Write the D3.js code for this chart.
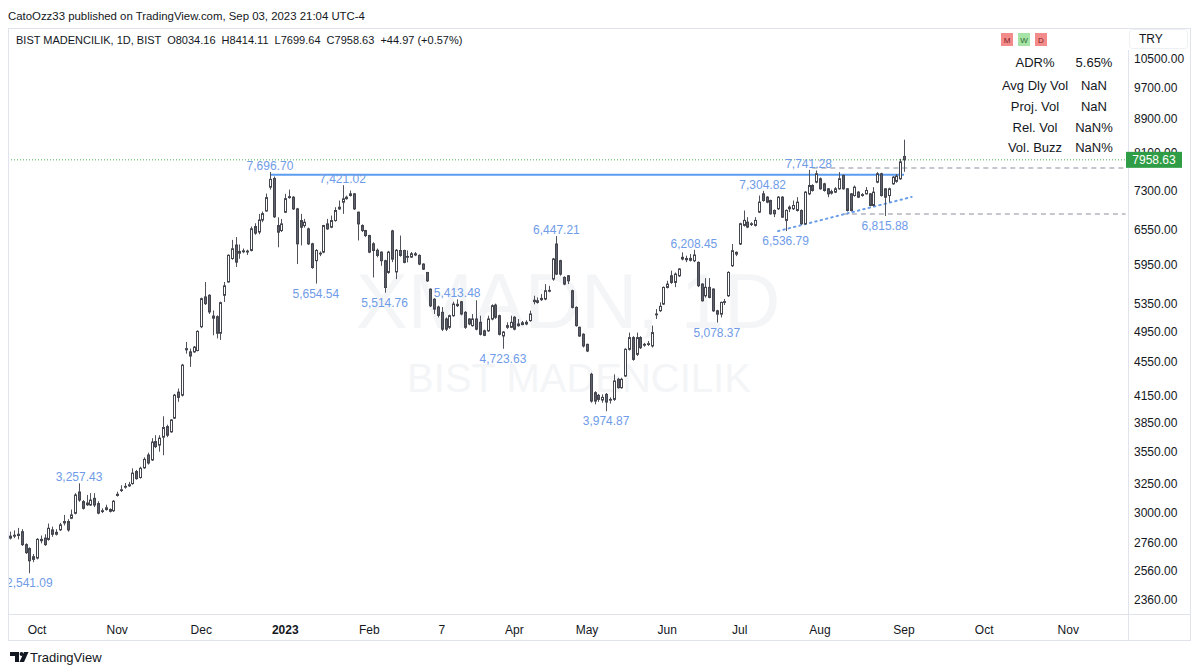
<!DOCTYPE html>
<html><head><meta charset="utf-8">
<script src="https://cdn.jsdelivr.net/npm/d3@7"></script>
<style>
html,body{margin:0;padding:0;background:#fff;}
svg{display:block;font-family:"Liberation Sans",Arial,sans-serif;}
</style></head><body><svg id="c" width="1200" height="671"></svg>
<script>
// ---------- DATA ----------
const firstBar = -7; // first candle index (Sep 22, 2022); bar 0 = Oct 3, 2022
// [open, high, low, close] per trading day
const ohlc = [
[2800,2850,2790,2815],[2815,2860,2800,2822],[2830,2880,2790,2820],[2850,2870,2740,2750],[2750,2760,2680,2690],
[2720,2730,2541.09,2630],[2640,2680,2620,2660],
[2650,2800,2640,2790],[2790,2820,2760,2780],[2800,2830,2740,2750],[2790,2915,2780,2877],[2864,2890,2810,2830],
[2830,2870,2820,2845],[2865,2920,2855,2904],[2920,2985,2900,2931],[2931,2950,2850,2864],[2958,3030,2950,2985],
[2999,3170,2990,3154],[3180,3257.43,3095,3110],[3097,3110,3030,3040],[3070,3154,3060,3085],[3068,3170,3060,3110],
[3125,3170,3050,3068],[3080,3100,2990,3000],[3020,3040,3000,3013],[3030,3070,3020,3045],[3030,3040,3005,3015],
[3020,3110,3010,3100],[3150,3183,3140,3160],[3195,3240,3180,3200],[3225,3260,3210,3230],[3235,3270,3225,3245],
[3255,3395,3245,3350],[3365,3380,3290,3300],[3310,3410,3300,3395],[3400,3500,3390,3480],[3522,3545,3430,3445],
[3475,3690,3465,3650],[3655,3720,3590,3605],[3620,3720,3555,3690],[3700,3920,3520,3800],[3810,3830,3700,3720],
[3755,3890,3745,3880],[3900,4170,3890,4155],[4190,4232,4080,4130],[4155,4530,4140,4514],[4710,4813,4660,4725],
[4683,4725,4493,4630],[4683,4760,4670,4745],[4700,4970,4690,4955],[5020,5440,5000,5424],[5450,5680,5330,5350],
[5475,5490,5200,5229],[5170,5250,4903,5140],[5160,5180,4860,4930],[4930,5380,4840,5365],[5475,5680,5375,5620],
[5680,6130,5670,6114],[6060,6380,6040,6225],[6290,6430,5920,6000],[6150,6300,6056,6180],[6190,6230,6150,6175],
[6170,6210,6120,6185],[6197,6620,6180,6578],[6620,6680,6470,6500],[6520,6855,6480,6740],[6740,6900,6700,6860],
[6910,7250,6900,7170],[7380,7696.70,7330,7540],[7560,7600,6780,6800],[6638,6790,6250,6517],[6547,6760,6520,6668],
[6887,7245,6870,7150],[7170,7330,7150,7190],[7178,7200,6930,6951],[6951,6970,5968,6311],[6730,6855,6283,6607],
[6638,6761,6600,6699],[6577,6600,6290,6311],[6311,6330,5890,5912],[6024,6220,5654.54,6196],[6150,6180,6100,6140],
[6168,6650,6150,6638],[6668,6761,6560,6577],[6607,6823,6590,6730],[6730,6983,6710,6919],[6950,7113,6930,6983],
[7079,7421.02,6855,7146],[7150,7210,7130,7178],[7245,7312,7190,7212],[7245,7260,6930,6951],[6887,6900,6370,6668],
[6638,6660,6520,6547],[6547,6560,6430,6457],[6457,6470,6150,6168],[6311,6340,5751,6196],[6200,6230,6080,6112],
[6168,6180,5940,6024],[6024,6040,5514.76,5594],[5831,6190,5810,6168],[6540,6560,6000,6050],[5840,6220,5725,6200],
[6196,6457,6090,6112],[6196,6210,5980,5996],[6084,6196,5996,6095],[6084,6170,6070,6140],[6140,6170,6100,6120],
[6112,6130,5950,5968],[5968,5980,5870,5885],[5831,5840,5680,5698],[5568,5580,5300,5318],[5416,5430,5200,5270],
[5300,5320,5150,5180],[5223,5300,4960,4986],[5128,5150,4960,4986],[5012,5190,4990,5175],[5175,5380,5160,5344],
[5320,5413.48,5300,5340],[5378,5390,5180,5199],[5223,5240,4990,5012],[5128,5140,5040,5058],[5035,5199,5020,5128],
[5128,5400,4970,4986],[5081,5175,4900,4916],[4963,4980,4890,4902],[4963,5175,4950,5128],[5128,5340,5110,5320],
[5329,5350,5130,5152],[5175,5190,4900,4916],[4893,4960,4723.63,4946],[5012,5081,4990,5035],[5012,5175,5000,5081],
[5152,5170,4970,4986],[5035,5128,5020,5058],[5050,5100,5040,5075],[5058,5110,5040,5081],[5105,5247,5090,5199],
[5380,5468,5340,5400],[5393,5443,5350,5369],[5410,5493,5390,5428],[5418,5647,5400,5544],[5540,5621,5520,5550],
[5726,6070,5700,6052],[6308,6447.21,5790,5805],[6024,6040,5780,5805],[5752,5770,5630,5647],[5778,5790,5647,5699],
[5544,5560,5280,5295],[5295,5310,5020,5035],[5012,5020,4880,4893],[4916,4930,4740,4760],[4781,4790,4680,4694],
[4401,4420,4070,4088],[4184,4200,4051,4088],[4153,4170,4080,4107],[4100,4164,4069,4130],[4164,4180,3974.87,4077],
[4100,4130,4060,4107],[4107,4401,4090,4321],[4341,4360,4230,4242],[4242,4360,4230,4341],[4381,4730,4370,4716],
[4716,4939,4700,4871],[4871,4890,4570,4587],[4651,4939,4630,4871],[4871,4890,4720,4737],[4770,4800,4750,4781],
[4781,4826,4760,4790],[4760,5035,4740,4939],[5190,5271,5128,5199],[5247,5369,5230,5310],[5344,5610,5330,5595],
[5595,5699,5580,5647],[5778,5860,5650,5673],[5673,5830,5600,5805],[5778,5900,5760,5887],[6052,6164,6030,6080],
[6060,6108,6000,6040],[6030,6135,6010,6062],[6023,6208.45,6000,6119],[5996,6010,5600,5622],[5647,5660,5380,5393],
[5468,5740,5440,5596],[5596,5740,5430,5443],[5570,5580,5230,5245],[5245,5260,5078.37,5197],[5197,5380,5150,5368],
[5368,5420,5330,5380],[5468,5850,5450,5832],[5941,6308,5920,6192],[6164,6180,6100,6135],[6308,6690,6290,6671],
[6641,6920,6620,6733],[6700,6794,6590,6610],[6660,6700,6630,6671],[6641,6794,6620,6733],[6889,7212,6870,7081],
[7245,7304.82,7090,7113],[7179,7200,7060,7081],[7113,7130,6840,6857],[6920,6940,6794,6857],[6952,7200,6930,7179],
[7179,7200,6780,6794],[6733,6940,6536.79,6920],[6952,7016,6889,6984],[6952,7113,6930,7016],[6920,7179,6900,7081],
[6920,6940,6650,6671],[6671,7300,6650,7279],[7245,7741.28,7220,7414],[7414,7440,7290,7313],[7483,7729,7460,7658],
[7553,7580,7330,7347],[7448,7470,7290,7313],[7347,7360,7179,7245],[7260,7330,7230,7290],[7279,7380,7260,7347],
[7347,7693,7330,7553],[7623,7640,7330,7347],[7347,7360,6900,6920],[7245,7260,6900,6920],[7212,7414,7190,7380],
[7279,7300,7160,7179],[7212,7260,7190,7230],[7245,7380,7230,7313],[7245,7260,7000,7016],[7016,7380,7000,7279],
[7483,7693,7460,7658],[7658,7680,7190,7212],[7347,7360,6815.88,7179],[7212,7370,7081,7347],[7448,7610,7430,7587],
[7500,7650,7470,7610],[7553,7980,7530,7913.66],[8034.16,8414.11,7699.64,7958.63]
];
const lastClose = 7958.63;
const priceTicks = [10500,9700,8900,8100,7300,6550,5950,5350,4950,4550,4150,3850,3550,3250,3000,2760,2560,2360];
const monthLabels = ["Oct","Nov","Dec","2023","Feb","7","Apr","May","Jun","Jul","Aug","Sep","Oct","Nov"];
const monthBars   = [0,21,43,65,87,106,125,144,165,184,205,227,248,270];
const pivotBars   = [-2,11,61,80,73,91,110,122,136,149,172,178,190,196,202,222];
const pivotValues = [2541.09,3257.43,7696.70,7421.02,5654.54,5514.76,5413.48,4723.63,6447.21,3974.87,6208.45,5078.37,7304.82,6536.79,7741.28,6815.88];
const pivotAbove  = [false,true,true,true,false,false,true,false,true,false,true,false,true,false,true,false];
const resistanceBars = [61,227], resistanceValue = 7640;
const trendBars = [194,229], trendValues = [6536.79,7183];
const levelValues = [7781,6853], levelStartBars = [203,211], levelEndBar = 285;
const statLabels = ["ADR%","Avg Dly Vol","Proj. Vol","Rel. Vol","Vol. Buzz"];
const statValues = ["5.65%","NaN","NaN","NaN%","NaN%"];
const tfLabels = ["M","W","D"], tfUp = [false,true,false];

// ---------- LAYOUT ----------
const svg = d3.select("#c");
const P = {left:8, right:1128, top:50, bottom:614};
const x = d3.scaleLinear().domain([0,227]).range([37,904]);
const y = d3.scaleLog().domain([2270.5,10779]).range([P.bottom,P.top]);
const ink = "#131722";

// frame
svg.append("rect").attr("x",8.5).attr("y",28.5).attr("width",1182).attr("height",612)
  .attr("fill","none").attr("stroke","#e0e3eb");
svg.append("line").attr("x1",1128.5).attr("x2",1128.5).attr("y1",50).attr("y2",640.5).attr("stroke","#e0e3eb");
svg.append("line").attr("x1",8).attr("x2",1190).attr("y1",614.5).attr("y2",614.5).attr("stroke","#e0e3eb");

// header texts
svg.append("text").attr("x",8).attr("y",20).attr("font-size",11.4).attr("fill",ink)
  .text("CatoOzz33 published on TradingView.com, Sep 03, 2023 21:04 UTC-4");
svg.append("text").attr("x",16).attr("y",44).attr("font-size",11).attr("fill",ink).attr("xml:space","preserve")
  .text("BIST MADENCILIK, 1D, BIST  O8034.16  H8414.11  L7699.64  C7958.63  +44.97 (+0.57%)");

// watermark
const wm = svg.append("g").attr("fill","#f4f5f7").attr("text-anchor","middle");
wm.append("text").attr("x",568).attr("y",328).attr("font-size",78).text("XMADN, 1D");
wm.append("text").attr("x",579).attr("y",392).attr("font-size",40).text("BIST MADENCILIK");

// clip
svg.append("clipPath").attr("id","pane").append("rect")
  .attr("x",P.left+1).attr("y",P.top).attr("width",P.right-P.left-1).attr("height",P.bottom-P.top);
const g = svg.append("g").attr("clip-path","url(#pane)");

// green price line
g.append("line").attr("x1",P.left).attr("x2",P.right).attr("y1",y(lastClose)).attr("y2",y(lastClose))
  .attr("stroke","#4caf50").attr("stroke-dasharray","1,2").attr("stroke-width",1);

// gray dashed levels
levelValues.forEach((v,k)=>{
  g.append("line").attr("x1",x(levelStartBars[k])).attr("x2",x(levelEndBar))
   .attr("y1",y(v)).attr("y2",y(v)).attr("stroke","#b2b5be").attr("stroke-width",1.5).attr("stroke-dasharray","5,4");
});

// resistance line
g.append("line").attr("x1",x(resistanceBars[0])).attr("x2",x(resistanceBars[1]))
  .attr("y1",y(resistanceValue)).attr("y2",y(resistanceValue)).attr("stroke","#5b9cf0").attr("stroke-width",2);
// trend line
g.append("line").attr("x1",x(trendBars[0])).attr("x2",x(trendBars[1]))
  .attr("y1",y(trendValues[0])).attr("y2",y(trendValues[1]))
  .attr("stroke","#6a9ee8").attr("stroke-width",2).attr("stroke-dasharray","1.5,4").attr("stroke-linecap","round");

// candles
const bars = ohlc.map((d,k)=>({i:firstBar+k,o:d[0],h:d[1],l:d[2],c:d[3]}));
const cg = g.append("g");
cg.selectAll("line.w").data(bars).join("line").attr("class","w")
  .attr("x1",d=>Math.round(x(d.i))+0.5).attr("x2",d=>Math.round(x(d.i))+0.5)
  .attr("y1",d=>y(d.h)).attr("y2",d=>y(d.l)).attr("stroke","#50535b").attr("stroke-width",1);
cg.selectAll("rect.b").data(bars).join("rect").attr("class","b")
  .attr("x",d=>Math.round(x(d.i))-0.5).attr("width",2)
  .attr("y",d=>y(Math.max(d.o,d.c))).attr("height",d=>Math.max(0.8,Math.abs(y(d.o)-y(d.c))))
  .attr("fill",d=>d.c>=d.o?"#ffffff":"#5d6069").attr("stroke","#43464e").attr("stroke-width",1);

// pivot labels
const fmt = d3.format(",.2f");
g.selectAll("text.pv").data(pivotValues).join("text").attr("class","pv")
  .attr("x",(v,k)=>x(pivotBars[k])).attr("y",(v,k)=>pivotAbove[k]?y(v)-2:y(v)+14)
  .attr("text-anchor","middle").attr("font-size",12).attr("fill","#6f9be8").text(v=>fmt(v));

// x axis
svg.append("g").selectAll("text").data(monthLabels).join("text")
  .attr("x",(t,k)=>x(monthBars[k])).attr("y",634).attr("text-anchor","middle").attr("font-size",12)
  .attr("font-weight",t=>t==="2023"?"bold":"normal").attr("fill",ink).text(t=>t);

// y axis
svg.append("g").selectAll("text").data(priceTicks).join("text")
  .attr("x",1134).attr("y",v=>y(v)+4).attr("font-size",12).attr("fill",ink).text(v=>d3.format(".2f")(v));
// TRY box
svg.append("rect").attr("x",1129.5).attr("y",29.5).attr("width",58).attr("height",19).attr("rx",3)
  .attr("fill","#fff").attr("stroke","#eef0f3");
svg.append("text").attr("x",1139).attr("y",43).attr("font-size",12).attr("fill",ink).text("TRY");
// last price label
svg.append("rect").attr("x",1126).attr("y",y(lastClose)-8).attr("width",56).attr("height",16).attr("fill","#2f9d45");
svg.append("text").attr("x",1154).attr("y",y(lastClose)+4.5).attr("text-anchor","middle")
  .attr("font-size",12).attr("fill","#fff").text(d3.format(".2f")(lastClose));

// timeframe boxes
tfLabels.forEach((t,k)=>{
  const bx = 1001 + k*17;
  svg.append("rect").attr("x",bx).attr("y",33).attr("width",12).attr("height",13)
    .attr("fill",tfUp[k]?"#a6e3a6":"#f38b8b");
  svg.append("text").attr("x",bx+6).attr("y",43).attr("text-anchor","middle").attr("font-size",8)
    .attr("fill",tfUp[k]?"#2d6a2d":"#7c1d1d").text(t);
});
// stats table
const rowY = [67,90,111,132,152];
statLabels.forEach((t,k)=>{
  svg.append("text").attr("x",1035).attr("y",rowY[k]).attr("text-anchor","middle").attr("font-size",13).attr("fill",ink).text(t);
  svg.append("text").attr("x",1094).attr("y",rowY[k]).attr("text-anchor","middle").attr("font-size",13).attr("fill",ink).text(statValues[k]);
});

// footer logo
const lg = svg.append("g").attr("fill",ink);
lg.append("path").attr("d","M10,652 h9 v10 h-4 v-6 h-5 z");
lg.append("circle").attr("cx",21.5).attr("cy",654).attr("r",1.9);
lg.append("path").attr("d","M24,652 h4.5 l-4.5,10 h-4.5 z");
svg.append("text").attr("x",30).attr("y",662).attr("font-size",13).attr("fill",ink).text("TradingView");
</script></body></html>
